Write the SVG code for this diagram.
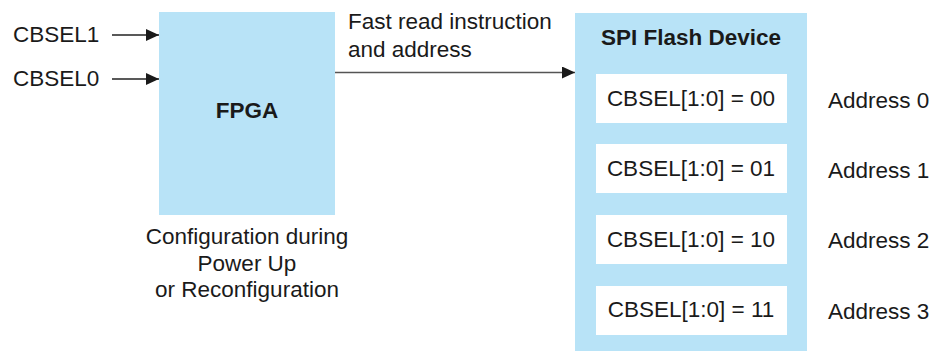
<svg xmlns="http://www.w3.org/2000/svg" width="935" height="351" viewBox="0 0 935 351">
<style>
text{font-family:"Liberation Sans",Arial,sans-serif;font-size:22.5px;fill:#1a1a1a}
.b{font-weight:bold}
.c{text-anchor:middle}
.blue{fill:#B8E3F7}
.w{fill:#fff}
.ln{stroke:#222;stroke-width:1.3;fill:none}
.ln2{stroke:#555;stroke-width:1.3;fill:none}
</style>
<defs>
<marker id="ah" markerWidth="13" markerHeight="12" refX="13" refY="6" orient="auto" markerUnits="userSpaceOnUse">
<path d="M0,0 L13,6 L0,12 Z" fill="#1a1a1a"/>
</marker>
</defs>
<rect width="935" height="351" fill="#fff"/>
<g id="fpga">
<rect class="blue" x="159" y="12" width="176" height="203"/>
<text class="b c" x="247" y="118">FPGA</text>
</g>
<g id="cbsel-labels">
<text x="13" y="42">CBSEL1</text>
<text x="13" y="86">CBSEL0</text>
</g>
<g id="config-note">
<text class="c" x="247" y="244">Configuration during</text>
<text class="c" x="247" y="271">Power Up</text>
<text class="c" x="247" y="297">or Reconfiguration</text>
</g>
<g id="spi">
<rect class="blue" x="575" y="13" width="232" height="338"/>
<text class="b c" x="691" y="45">SPI Flash Device</text>
</g>
<g id="slot0"><rect class="w" x="596" y="74" width="191" height="49"/><text class="c" x="691" y="106">CBSEL[1:0] = 00</text></g>
<g id="slot1"><rect class="w" x="596" y="144" width="191" height="49"/><text class="c" x="691" y="176">CBSEL[1:0] = 01</text></g>
<g id="slot2"><rect class="w" x="596" y="215" width="191" height="49"/><text class="c" x="691" y="247">CBSEL[1:0] = 10</text></g>
<g id="slot3"><rect class="w" x="596" y="286" width="191" height="49"/><text class="c" x="691" y="317">CBSEL[1:0] = 11</text></g>
<g id="addresses">
<text x="828" y="108">Address 0</text>
<text x="828" y="178">Address 1</text>
<text x="828" y="248">Address 2</text>
<text x="828" y="319">Address 3</text>
</g>
<g id="connectors">
<line class="ln" x1="112" y1="35" x2="159" y2="35" marker-end="url(#ah)"/>
<line class="ln" x1="112" y1="79" x2="159" y2="79" marker-end="url(#ah)"/>
<line class="ln2" x1="335" y1="72.5" x2="575" y2="72.5" marker-end="url(#ah)"/>
<text x="348" y="29">Fast read instruction</text>
<text x="348" y="57">and address</text>
</g>
</svg>
